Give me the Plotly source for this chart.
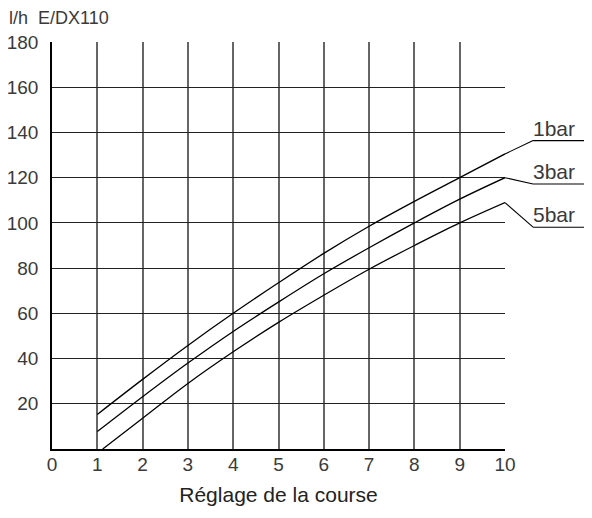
import plotly.graph_objects as go

x_1bar = [1, 2, 3, 4, 5, 6, 7, 8, 9, 10]
y_1bar = [15.3, 30.8, 45.8, 60, 73.5, 86.5, 98.5, 109.5, 120, 130.5]
x_3bar = [1, 2, 3, 4, 5, 6, 7, 8, 9, 10]
y_3bar = [7.7, 23.1, 38, 52, 65, 77.5, 89, 100, 110.5, 120]
x_5bar = [1.12, 2, 3, 4, 5, 6, 7, 8, 9, 10]
y_5bar = [0, 13.6, 29, 43, 56, 68, 79.5, 90, 100, 109]
series_names = ["1bar", "3bar", "5bar"]
label_values = [136.4, 117.2, 98.1]
x_ticks = list(range(0, 11))
y_ticks = list(range(20, 181, 20))

X_MAX = 10
Y_MAX = 180

fig = go.Figure()
tick_font = dict(family="Liberation Sans", size=19, color="#3a3a3a")

for xs, ys in [(x_1bar, y_1bar), (x_3bar, y_3bar), (x_5bar, y_5bar)]:
    fig.add_trace(go.Scatter(x=xs, y=ys, mode="lines", line=dict(color="black", width=1.3, shape="spline"),
                             showlegend=False, hoverinfo="skip"))

# leader lines and labels (paper coordinates so they are not clipped)
x_start = 10.62
x_end = 12.2
for xs, ys, name, ly in zip([x_1bar, x_3bar, x_5bar], [y_1bar, y_3bar, y_5bar], series_names, label_values):
    fig.add_shape(type="line", xref="paper", yref="paper",
                  x0=xs[-1] / X_MAX, y0=ys[-1] / Y_MAX, x1=x_start / X_MAX, y1=ly / Y_MAX,
                  line=dict(color="black", width=1.1))
    fig.add_shape(type="line", xref="paper", yref="paper",
                  x0=x_start / X_MAX, y0=ly / Y_MAX, x1=x_end / X_MAX, y1=ly / Y_MAX,
                  line=dict(color="black", width=1.1))
    fig.add_annotation(xref="paper", yref="paper", x=11.6 / X_MAX, y=ly / Y_MAX,
                       text=name, showarrow=False, yanchor="bottom", yshift=-1,
                       font=dict(family="Liberation Sans", size=21, color="#3a3a3a"))

fig.add_annotation(xref="paper", yref="paper", x=-0.1, y=1.058, xanchor="left", yanchor="middle",
                   text="l/h  E/DX110", showarrow=False,
                   font=dict(family="Liberation Sans", size=18, color="#3a3a3a"))

fig.update_xaxes(range=[0, X_MAX], tickvals=x_ticks, ticktext=[str(v) for v in x_ticks],
                 showgrid=True, gridcolor="#666", gridwidth=1.5, zeroline=False,
                 showline=True, linecolor="black", linewidth=1.5, mirror=False, automargin=False,
                 ticks="", tickfont=tick_font, ticklabelstandoff=-3,
                 title=dict(text="Réglage de la course", font=dict(family="Liberation Sans", size=21, color="#222"),
                            standoff=14))
fig.update_yaxes(range=[0, Y_MAX], tickvals=y_ticks, ticktext=[str(v) for v in y_ticks],
                 showgrid=True, gridcolor="#222", gridwidth=1.3, zeroline=False,
                 showline=True, linecolor="black", linewidth=1.5, automargin=False,
                 ticks="", tickfont=tick_font, ticklabelstandoff=8)

fig.update_layout(width=584, height=502, margin=dict(l=44, r=87, t=34, b=61),
                  plot_bgcolor="white", paper_bgcolor="white")

fig.write_html("out.html")
